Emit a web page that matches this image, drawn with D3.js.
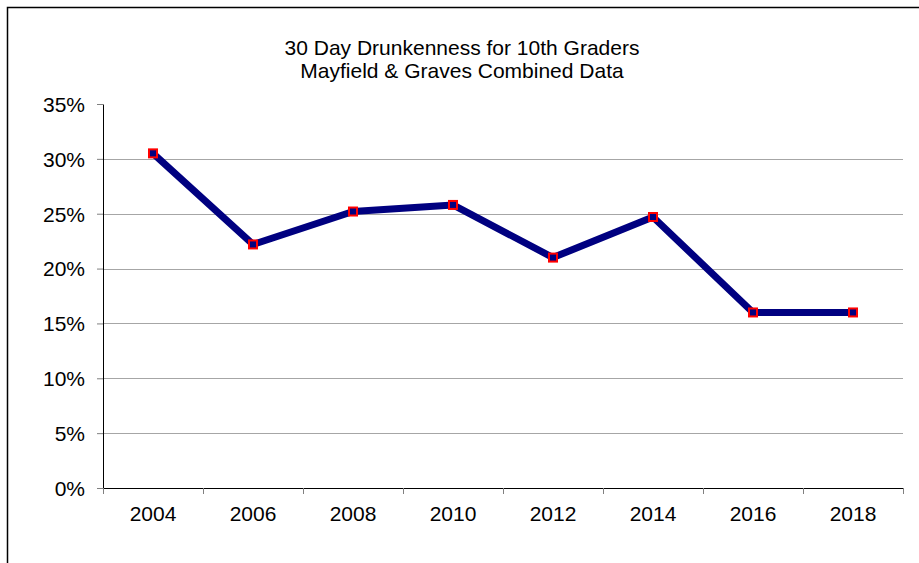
<!DOCTYPE html>
<meta charset="utf-8">
<html>
<head>
<script src="https://d3js.org/d3.v7.min.js"></script>
<style>
  body { margin: 0; background: #fff; }
  text { font-family: "Liberation Sans", Arial, sans-serif; fill: #000; }
</style>
</head>
<body>
<div id="my_dataviz"></div>
<script>

// chart data
var years = ["2004", "2006", "2008", "2010", "2012", "2014", "2016", "2018"];
var values = [30.5, 22.2, 25.2, 25.8, 21.0, 24.7, 16.0, 16.0];
var yTicks = [0, 5, 10, 15, 20, 25, 30, 35];
var titleLines = ["30 Day Drunkenness for 10th Graders", "Mayfield & Graves Combined Data"];

var W = 919, H = 563;
var margin = {top: 104, right: 16, bottom: 75, left: 103},
    width = 903 - margin.left,
    height = 488 - margin.top;

var svg = d3.select("#my_dataviz")
  .append("svg")
    .attr("width", W)
    .attr("height", H);

// outer frame (runs off the page at right and bottom)
svg.append("rect")
  .attr("x", 7.5).attr("y", 7.5)
  .attr("width", 1000).attr("height", 1000)
  .attr("fill", "none")
  .attr("stroke", "#000")
  .attr("stroke-width", 1.5);

// title
svg.append("g").selectAll("text")
  .data(titleLines)
  .enter().append("text")
    .attr("x", 462)
    .attr("y", function(d, i) { return 54.5 + i * 23; })
    .attr("text-anchor", "middle")
    .style("font-size", "21px")
    .text(function(d) { return d; });

var g = svg.append("g")
  .attr("transform", "translate(" + margin.left + "," + margin.top + ")");

var x = d3.scaleBand()
  .domain(years)
  .range([0, width]);

var y = d3.scaleLinear()
  .domain([0, 35])
  .range([height, 0]);

// gridlines
g.append("g").selectAll("line")
  .data(yTicks.filter(function(t) { return t > 0 && t < 35; }))
  .enter().append("line")
    .attr("x1", 0).attr("x2", width)
    .attr("y1", function(d) { return Math.round(y(d)) + 0.5; })
    .attr("y2", function(d) { return Math.round(y(d)) + 0.5; })
    .attr("stroke", "#a6a6a6")
    .attr("stroke-width", 1);

// y axis
var yAxis = g.append("g")
  .call(d3.axisLeft(y).tickValues(yTicks).tickSize(6).tickPadding(12)
    .tickFormat(function(d) { return d + "%"; }));
yAxis.select(".domain").attr("stroke", "#000").attr("d", "M0.5," + height + "V0.5");
yAxis.selectAll(".tick line").attr("stroke", "#808080");
yAxis.selectAll("text").style("font-size", "21px").attr("dy", "0.35em");

// x axis with ticks on band edges
var xAxis = g.append("g")
  .attr("transform", "translate(0," + height + ")");
xAxis.append("line")
  .attr("x1", 0).attr("x2", width)
  .attr("y1", 0.5).attr("y2", 0.5)
  .attr("stroke", "#000");
xAxis.selectAll(".edge")
  .data(years.concat(["end"]))
  .enter().append("line")
    .attr("class", "edge")
    .attr("x1", function(d, i) { return i * x.bandwidth() + 0.5; })
    .attr("x2", function(d, i) { return i * x.bandwidth() + 0.5; })
    .attr("y1", 0).attr("y2", 6)
    .attr("stroke", "#808080");
xAxis.selectAll(".lbl")
  .data(years)
  .enter().append("text")
    .attr("class", "lbl")
    .attr("x", function(d) { return x(d) + x.bandwidth() / 2; })
    .attr("y", 33)
    .attr("text-anchor", "middle")
    .style("font-size", "21px")
    .text(function(d) { return d; });

// line
var line = d3.line()
  .x(function(d, i) { return x(years[i]) + x.bandwidth() / 2; })
  .y(function(d) { return y(d); });

g.append("path")
  .datum(values)
  .attr("fill", "none")
  .attr("stroke", "#000080")
  .attr("stroke-width", 7)
  .attr("stroke-linejoin", "round")
  .attr("d", line);

// markers
g.selectAll(".mk")
  .data(values)
  .enter().append("rect")
    .attr("class", "mk")
    .attr("x", function(d, i) { return x(years[i]) + x.bandwidth() / 2 - 4; })
    .attr("y", function(d) { return y(d) - 4; })
    .attr("width", 8).attr("height", 8)
    .attr("fill", "#000080")
    .attr("stroke", "#ff0000")
    .attr("stroke-width", 2);

</script>
</body>
</html>
